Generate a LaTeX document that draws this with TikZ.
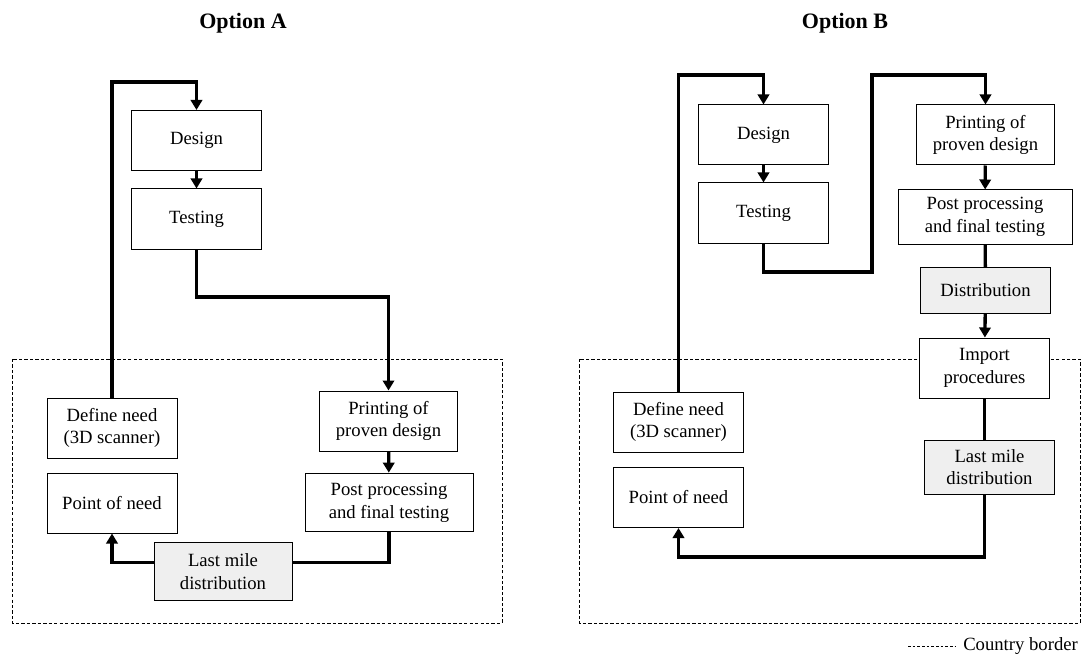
\documentclass[tikz,border=0pt]{standalone}
\usepackage{fontspec}
\setmainfont{Liberation Serif}
\usetikzlibrary{arrows.meta}
\definecolor{boxgray}{RGB}{239,239,239}

\begin{document}
\begin{tikzpicture}[
  x=0.75pt, y=-0.75pt,
  font=\fontsize{14}{17}\selectfont,
  box/.style={draw, fill=white, line width=0.75pt, align=center, inner sep=2pt,
              minimum width=97.5pt, minimum height=45pt},
  grey/.style={box, fill=boxgray},
  flow/.style={line width=2.5pt},
  arr/.style={flow, -{Triangle[length=7.5pt,width=8.5pt]}},
  border/.style={line width=0.75pt, dash pattern=on 2.5pt off 1.6pt},
  title/.style={font=\fontsize{16.5}{19}\selectfont\bfseries}
]
\useasboundingbox (0,0) rectangle (1089,656);

% --- country borders (behind the boxes) ---
\draw[border] (12,359) rectangle (502,623);
\draw[border] (579,359) rectangle (1080,623);

% --- Option A ---
\node[title] (titleA) at (243,23) {Option A};

\node[box] (designA) at (196.5,140.5) {Design};
\node[box] (testA)   at (196.5,219)   {Testing};
\node[box] (defA)    at (112,428)     {Define need\\(3D scanner)};
\node[box] (pointA)  at (112,503)     {Point of need};
\node[box, minimum width=103pt] (printA) at (388.5,421) {Printing of\\proven design};
\node[box, minimum width=126pt, minimum height=44pt] (postA) at (389,502.5) {Post processing\\and final testing};
\node[grey, minimum width=103.5pt, minimum height=44pt] (lastA) at (223,571.5) {Last mile\\distribution};

\coordinate (loopA) at (112,82);
\coordinate (bendA) at (196.5,297);

\draw[arr] (defA.north) -- (defA.north |- loopA) -| (designA.north);
\draw[arr] (designA) -- (testA);
\draw[arr] (testA.south) -- (bendA) -| (printA.north);
\draw[arr] (printA) -- (postA);
\draw[flow] (postA.south) |- ([yshift=7pt]lastA.east);
\draw[arr] ([yshift=7pt]lastA.west) -| (pointA.south);

% --- Option B ---
\node[title] (titleB) at (845,23) {Option B};

\node[box] (designB) at (763.5,135) {Design};
\node[box] (testB)   at (763.5,213) {Testing};
\node[box, minimum width=104pt] (printB) at (985.5,135) {Printing of\\proven design};
\node[box, minimum width=130.5pt, minimum height=40.5pt] (postB) at (985,217) {Post processing\\and final testing};
\node[grey, minimum height=34pt] (distB) at (985.5,290.5) {Distribution};
\node[box] (importB) at (984.5,368) {Import\\procedures};
\node[grey, minimum height=40.5pt] (lastB) at (989.5,467) {Last mile\\distribution};
\node[box] (defB)   at (678.5,422)   {Define need\\(3D scanner)};
\node[box] (pointB) at (678.5,497.5) {Point of need};

\coordinate (loopB)  at (678.5,75);
\coordinate (bendB1) at (763.5,272);
\coordinate (bendB2) at (872,272);
\coordinate (bendB3) at (872,75);
\coordinate (lowB)   at (984.5,557);

\draw[arr] (defB.north) -- (loopB) -| (designB.north);
\draw[arr] (designB) -- (testB);
\draw[arr] (testB.south) -- (bendB1) -- (bendB2) -- (bendB3) -| (printB.north);
\draw[arr] (printB) -- (postB);
\draw[flow] (postB) -- (distB);
\draw[arr] (distB) -- (importB);
\draw[flow] (importB.south) -- (importB.south |- lastB.north);
\draw[arr] (importB.south |- lastB.south) -- (lowB) -| (pointB.south);

% --- legend ---
\coordinate (legL) at (908,646);
\coordinate (legR) at (955,646);
\draw[border, dash pattern=on 2pt off 1.5pt] (legL) -- (legR);
\node[anchor=west, inner sep=0pt, xshift=6pt] (legend) at (legR) {Country border};

\end{tikzpicture}
\end{document}
